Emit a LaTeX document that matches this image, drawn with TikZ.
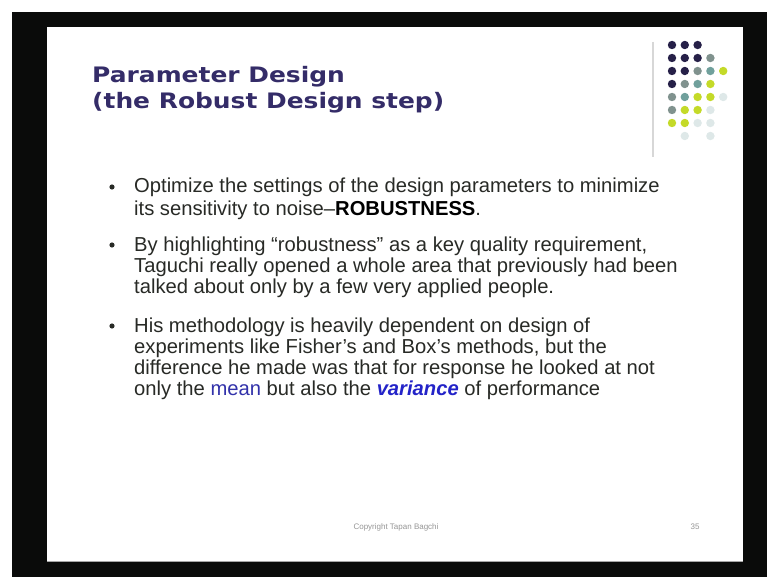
\documentclass[tikz,border=0pt]{standalone}
\usepackage{fontspec}
\usepackage{graphicx}
\setmainfont{Liberation Sans}
\newfontfamily\titlefamily{DejaVu Sans}

\definecolor{frameblack}{RGB}{10,11,10}
\definecolor{titlecol}{RGB}{52,44,104}
\definecolor{bodytext}{RGB}{40,42,38}
\definecolor{emphblue}{RGB}{50,50,170}
\definecolor{varblue}{RGB}{35,35,200}
\definecolor{footgray}{RGB}{150,150,150}
\definecolor{dotdark}{RGB}{38,32,72}
\definecolor{dotgray}{RGB}{128,146,142}
\definecolor{dotteal}{RGB}{112,160,156}
\definecolor{dotlime}{RGB}{196,218,40}
\definecolor{dotpale}{RGB}{222,232,232}
\definecolor{rulegray}{RGB}{215,215,215}

% wide bold heading face
\newcommand{\headtext}[1]{\scalebox{1.17}[1]{#1}}

\tikzset{
  titleline/.style={anchor=base west, inner sep=0pt, text=titlecol,
    font=\titlefamily\bfseries\fontsize{21.3}{24}\selectfont},
  bodyline/.style={anchor=base west, inner sep=0pt, text=bodytext,
    font=\fontsize{20.2}{21}\selectfont},
  bulletdot/.style={circle, fill=bodytext, inner sep=0pt, minimum size=5.2pt},
  footnote/.style={anchor=base, inner sep=0pt, text=footgray,
    font=\fontsize{8}{9}\selectfont},
  gdot/.style={circle, inner sep=0pt, minimum size=8.4pt, fill=#1},
}

\begin{document}
\begin{tikzpicture}[x=1pt, y=-1pt]
  % canvas and dark surround
  \useasboundingbox (0,0) rectangle (767,577);
  \fill[white] (0,0) rectangle (767,577);
  \fill[frameblack] (12,12) rectangle (767,577);
  % slide face
  \fill[white] (47,27) rectangle (743,562);
  \draw[gray!70, line width=1pt] (47,561.5) -- (743,561.5);

  % decorative rule and dot grid
  \draw[rulegray, line width=1.6pt] (653,42) -- (653,157);
  \foreach \c/\r/\col in {
      0/0/dotdark, 1/0/dotdark, 2/0/dotdark,
      0/1/dotdark, 1/1/dotdark, 2/1/dotdark, 3/1/dotgray,
      0/2/dotdark, 1/2/dotdark, 2/2/dotgray, 3/2/dotteal, 4/2/dotlime,
      0/3/dotdark, 1/3/dotgray, 2/3/dotteal, 3/3/dotlime,
      0/4/dotgray, 1/4/dotteal, 2/4/dotlime, 3/4/dotlime, 4/4/dotpale,
      0/5/dotgray, 1/5/dotlime, 2/5/dotlime, 3/5/dotpale,
      0/6/dotlime, 1/6/dotlime, 2/6/dotpale, 3/6/dotpale,
      1/7/dotpale, 3/7/dotpale}
    \node[gdot=\col] (dot-\c-\r) at ({672+12.8*\c},{45+13*\r}) {};

  % title
  \node[titleline] (title1) at (92,83) {\headtext{Parameter Design}};
  \node[titleline] (title2) at (92,109) {\headtext{(the Robust Design step)}};

  % bullet 1
  \node[bulletdot] (bul1) at (112,187) {};
  \node[bodyline] (b1a) at (134,193) {Optimize the settings of the design parameters to minimize};
  \node[bodyline] (b1b) at (134,215) {its sensitivity to noise--\textcolor{black}{\textbf{ROBUSTNESS}}.};

  % bullet 2
  \node[bulletdot] (bul2) at (112,245) {};
  \node[bodyline] (b2a) at (134,251) {By highlighting “robustness” as a key quality requirement,};
  \node[bodyline] (b2b) at (134,272) {Taguchi really opened a whole area that previously had been};
  \node[bodyline] (b2c) at (134,293) {talked about only by a few very applied people.};

  % bullet 3
  \node[bulletdot] (bul3) at (112,326) {};
  \node[bodyline] (b3a) at (134,332) {His methodology is heavily dependent on design of};
  \node[bodyline] (b3b) at (134,353) {experiments like Fisher’s and Box’s methods, but the};
  \node[bodyline] (b3c) at (134,374) {difference he made was that for response he looked at not};
  \node[bodyline] (b3d) at (134,395) {only the \textcolor{emphblue}{mean} but also the \textcolor{varblue}{\textbf{\textit{variance}}} of performance};

  % footer
  \node[footnote] (copy) at (396,529) {Copyright Tapan Bagchi};
  \node[footnote] (pagenum) at (695,529) {35};
\end{tikzpicture}
\end{document}
